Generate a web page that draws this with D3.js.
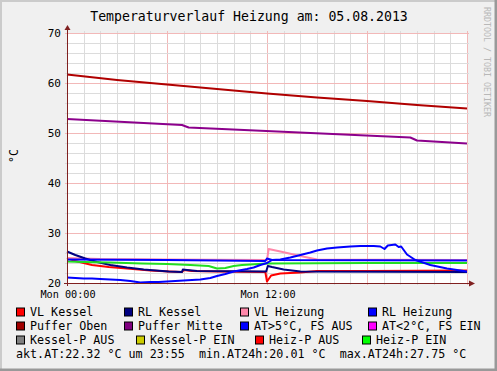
<!DOCTYPE html>
<html>
<head>
<meta charset="utf-8">
<script src="https://cdn.jsdelivr.net/npm/d3@7"></script>
<style>
  body { margin: 0; background: #f0f0f0; }
  svg { display: block; }
  text { font-family: "DejaVu Sans Mono", monospace; }
</style>
</head>
<body>
<svg id="chart" width="497" height="371"></svg>
<script>
//Chart data: [hour, °C]
var vlKessel = [[0,25.0],[0.5,24.4],[1.5,23.6],[2.5,23.2],[3.6,22.9],[5,22.5],[6.1,22.3],[6.9,22.2],[7.0,22.6],[7.5,22.4],[9,22.3],[11.9,22.2],[12.0,20.3],[12.25,21.5],[12.8,21.9],[14,22.1],[15,22.4],[18,22.4],[24,22.5]];
var rlKessel = [[0,26.3],[0.5,25.6],[1.1,24.9],[1.8,24.2],[2.6,23.6],[3.6,23.1],[4.6,22.7],[6.1,22.3],[6.9,22.2],[6.95,22.7],[7.2,22.6],[7.8,22.4],[11.95,22.3],[12.05,23.4],[12.3,23.2],[13,22.7],[14,22.3],[24,22.2]];
var vlHeizung = [[0,25.0],[2,24.8],[6,24.7],[12.0,24.6],[12.1,26.8],[12.8,26.3],[14,25.4],[15,24.7],[24,24.6]];
var rlHeizung = [[0,24.7],[6,24.6],[11.9,24.4],[12.0,24.9],[12.3,24.6],[24,24.5]];
var pufferOben = [[0,61.7],[3,60.6],[6,59.7],[9,58.8],[12,57.9],[15,57.1],[18,56.4],[21,55.6],[24,54.9]];
var pufferMitte = [[0,52.8],[6.9,51.6],[7.3,51.1],[20.6,49.1],[21.0,48.5],[24,47.9]];
var aussen = [[0,21.1],[0.5,21.0],[1,20.9],[1.5,20.9],[2,20.8],[2.6,20.7],[3.2,20.6],[3.8,20.4],[4.4,20.1],[5,20.2],[5.5,20.2],[6,20.3],[7,20.5],[8,20.7],[8.6,21.0],[9,21.4],[9.5,21.8],[10,22.3],[10.8,22.8],[11.2,23.1],[11.6,23.6],[12,24.0],[12.3,24.6],[12.8,24.7],[13.4,25.1],[14,25.6],[14.6,26.1],[15,26.5],[15.6,26.9],[16.2,27.1],[17,27.3],[17.6,27.4],[18.4,27.4],[18.8,27.3],[19.05,26.8],[19.25,27.5],[19.7,27.7],[19.9,27.2],[20.05,27.3],[20.4,25.7],[20.9,24.6],[21.8,23.6],[22.8,22.9],[24,22.3]];
var heizPEin = [[0,24.3],[1,24.2],[2.6,24.1],[4.5,23.9],[6,23.8],[7.4,23.6],[8.5,23.4],[9.0,22.9],[9.5,23.0],[10.0,23.4],[10.5,23.6],[12,23.9],[18,24.0],[24,24.0]];

//Legend
var legendLabels = [
  ["VL Kessel","RL Kessel","VL Heizung","RL Heizung"],
  ["Puffer Oben","Puffer Mitte","AT>5°C, FS AUS","AT<2°C, FS EIN"],
  ["Kessel-P AUS","Kessel-P EIN","Heiz-P AUS","Heiz-P EIN"]
];
var statLabels = ["akt.AT:", "min.AT24h:", "max.AT24h:"];
var statValues = [22.32, 20.01, 27.75];
var statTime = "23:55";

var title = "Temperaturverlauf Heizung am: 05.08.2013";
var xTickLabels = ["Mon 00:00", "Mon 12:00"];

//Styles
var legendColors = [
  ["#ff0000","#000080","#ff88aa","#0000ff"],
  ["#a00000","#800080","#0000ff","#ff00ff"],
  ["#808080","#cccc00","#ff0000","#00ff00"]
];
var legendTextX = [[30,138,254,382],[30,138,254,382],[30,150,269,376]];
var series = [
  {data: vlKessel, color: "#ff0000"},
  {data: vlHeizung, color: "#ff88aa"},
  {data: rlKessel, color: "#000080"},
  {data: pufferOben, color: "#b00000"},
  {data: pufferMitte, color: "#8c008c"},
  {data: heizPEin, color: "#22dd22"},
  {data: rlHeizung, color: "#0000ff"},
  {data: aussen, color: "#0000ff"}
];

(function drawChart(){
  var svg = d3.select("#chart");
  var W = 497, H = 371;
  var plotL = 67, plotR = 467, plotT = 33, plotB = 283;

  var x = d3.scaleLinear().domain([0,24]).range([plotL,plotR]);
  var y = d3.scaleLinear().domain([20,70]).range([plotB,plotT]);

  //background + shaded frame
  svg.append("rect").attr("width",W).attr("height",H).attr("fill","#f0f0f0");
  svg.append("path").attr("d","M1,"+H+"V1H"+W).attr("stroke","#cbcbcb").attr("stroke-width",2).attr("fill","none");
  svg.append("path").attr("d","M0,"+(H-1)+"H"+(W-1)+"V0").attr("stroke","#999999").attr("stroke-width",3).attr("fill","none");

  //canvas
  svg.append("rect").attr("x",plotL).attr("y",plotT).attr("width",plotR-plotL).attr("height",plotB-plotT).attr("fill","#ffffff");

  //grid
  var g = svg.append("g").attr("shape-rendering","crispEdges");
  d3.range(0,25,1).forEach(function(h){
    var px = Math.round(x(h))+0.5;
    g.append("line").attr("x1",px).attr("x2",px).attr("y1",plotT-2).attr("y2",plotB+2)
      .attr("stroke", h%6===0 ? "#f2b8b8" : "#dcdcdc");
  });
  d3.range(20,71,2).forEach(function(v){
    var py = Math.round(y(v))+0.5;
    g.append("line").attr("x1",plotL-2).attr("x2",plotR+2).attr("y1",py).attr("y2",py)
      .attr("stroke", v%10===0 ? "#f2b8b8" : "#dcdcdc");
  });

  //y tick labels
  y.ticks(5).forEach(function(v){
    svg.append("text").attr("x",61).attr("y",y(v)+4).attr("text-anchor","end")
      .attr("font-size",11).attr("fill","#000").text(v);
  });
  //x tick labels
  xTickLabels.forEach(function(t,i){
    svg.append("text").attr("x",x(i*12)+1).attr("y",298).attr("text-anchor","middle")
      .attr("font-size",10.2).attr("fill","#000").text(t);
  });

  //lines
  var line = d3.line().x(function(d){return x(d[0]);}).y(function(d){return y(d[1]);});
  series.forEach(function(s){
    svg.append("path").datum(s.data).attr("d",line).attr("fill","none")
      .attr("stroke",s.color).attr("stroke-width",2).attr("stroke-linejoin","round");
  });

  //axes with arrows
  var axisColor = "#802020";
  svg.append("line").attr("x1",plotL+0.5).attr("x2",plotL+0.5).attr("y1",plotB+3).attr("y2",29)
    .attr("stroke",axisColor).attr("stroke-width",1);
  svg.append("line").attr("x1",plotL-3).attr("x2",471).attr("y1",plotB+0.5).attr("y2",plotB+0.5)
    .attr("stroke",axisColor).attr("stroke-width",1);
  svg.append("path").attr("d","M"+(plotL-2.5)+",30L"+(plotL+0.5)+",25L"+(plotL+3.5)+",30Z").attr("fill",axisColor);
  svg.append("path").attr("d","M469,"+(plotB-2.5)+"L475,"+(plotB+0.5)+"L469,"+(plotB+3.5)+"Z").attr("fill",axisColor);

  //title
  svg.append("text").attr("x",249).attr("y",21).attr("text-anchor","middle")
    .attr("font-size",13.2).attr("fill","#000").text(title);

  //unit label
  svg.append("text").attr("transform","translate(18,156) rotate(-90)").attr("text-anchor","middle")
    .attr("font-size",11.5).attr("fill","#000").text("°C");

  //watermark
  svg.append("text").attr("transform","translate(484,7) rotate(90)").attr("text-anchor","start")
    .attr("font-size",8.3).attr("fill","#b8b8b8").text("RRDTOOL / TOBI OETIKER");

  //legend
  legendLabels.forEach(function(row,r){
    var by = 315.5 + r*14;
    row.forEach(function(label,c){
      var tx = legendTextX[r][c];
      svg.append("rect").attr("x",tx-13.5).attr("y",by-7.5).attr("width",8).attr("height",8)
        .attr("fill",legendColors[r][c]).attr("stroke","#000").attr("stroke-width",1);
      svg.append("text").attr("x",tx).attr("y",by).attr("font-size",11.7).attr("fill","#000").text(label);
    });
  });
  var statLine = statLabels[0] + statValues[0].toFixed(2) + " °C um " + statTime + "  " +
    statLabels[1] + statValues[1].toFixed(2) + " °C  " +
    statLabels[2] + statValues[2].toFixed(2) + " °C";
  svg.append("text").attr("x",16).attr("y",315.5+3*14).attr("font-size",11.7).attr("fill","#000")
    .style("white-space","pre").text(statLine);
})();
</script>
</body>
</html>
